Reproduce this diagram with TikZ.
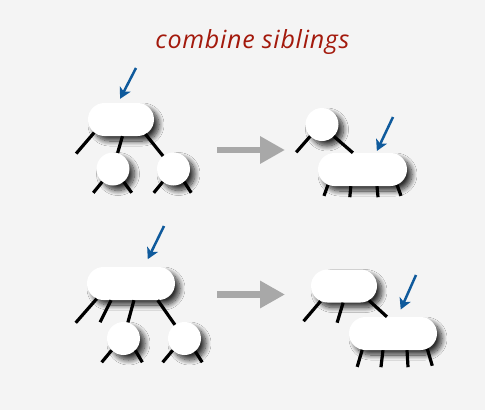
\documentclass[tikz,border=0pt]{standalone}
\usepackage{fontspec}
\setsansfont{Open Sans}
\usetikzlibrary{shapes.misc,arrows.meta,shadows.blur}
\definecolor{titlered}{HTML}{A3190C}
\definecolor{ptrblue}{HTML}{0F5A9C}
\definecolor{bggray}{HTML}{F4F4F4}
\definecolor{movegray}{HTML}{A8A8A8}

\begin{document}
\begin{tikzpicture}[x=1pt,y=-1pt,
    dropshadow/.style={blur shadow={shadow xshift=5pt,shadow yshift=-5pt,shadow blur radius=5pt,shadow blur steps=12,shadow opacity=80}},
    pill/.style={rounded rectangle,fill=white,minimum height=33pt,inner sep=0pt,dropshadow},
    bubble/.style={circle,fill=white,minimum size=33pt,inner sep=0pt,dropshadow},
    link/.style={line width=3.2pt},
    ptr/.style={ptrblue,line width=2.5pt,-{Stealth[length=11pt,width=12pt,inset=3pt]}},
    move/.style={movegray,line width=6.5pt,-{Triangle[length=25pt,width=26pt]}}]
    \fill[bggray] (0,0) rectangle (485,410);
    \node[font=\sffamily\itshape\fontsize{25}{29}\selectfont\addfontfeatures{LetterSpace=3},text=titlered,anchor=base] (title) at (252.5,48) {combine siblings};

    \node[pill,minimum width=66pt] (tl) at (121,119.5) {};
    \node[bubble] (tla) at (113,169) {};
    \node[bubble] (tlb) at (173.5,169) {};
    \draw[link] (tl.-154) -- ++(-18,21);
    \draw[link] (tl.-85) -- (tla);
    \draw[link] (tl.-31) -- (tlb);
    \draw[link] (tla.-130) -- ++(-9,11);
    \draw[link] (tla.-50) -- ++(8,11);
    \draw[link] (tlb.-130) -- ++(-9,11);
    \draw[link] (tlb.-50) -- ++(7,11);
    \coordinate (tlp) at (136,68);
    \draw[ptr,shorten >=4.5pt] (tlp) -- (tl.100);

    \coordinate (m1s) at (217,150);
    \coordinate (m1e) at (285,150);
    \draw[move] (m1s) -- (m1e);

    \node[bubble] (tra) at (322,124.5) {};
    \node[pill,minimum width=89pt] (trb) at (362.5,169.5) {};
    \draw[link] (tra.-135) -- ++(-14,16);
    \draw[link] (tra.-45) -- (trb.120);
    \draw[link] (trb.-156) -- ++(-4,11);
    \draw[link] (trb.-125) -- ++(-1,11);
    \draw[link] (trb.-49) -- ++(1,11);
    \draw[link] (trb.-24) -- ++(4,11);
    \coordinate (trp) at (393,117);
    \draw[ptr,shorten >=2pt] (trp) -- (trb.51);

    \node[pill,minimum width=88pt] (bl) at (131,283.5) {};
    \node[bubble] (bla) at (123.5,338.5) {};
    \node[bubble] (blb) at (184.5,338.5) {};
    \draw[link] (bl.-156) -- ++(-21,24);
    \draw[link] (bl.-140) -- ++(-11,22);
    \draw[link] (bl.-80) -- (bla);
    \draw[link] (bl.-32) -- (blb);
    \draw[link] (bla.-135) -- ++(-10,12);
    \draw[link] (bla.-45) -- ++(7,12);
    \draw[link] (blb.-135) -- ++(-10,12);
    \draw[link] (blb.-50) -- ++(7,11);
    \coordinate (blp) at (164,226);
    \draw[ptr,shorten >=8.5pt] (blp) -- (bl.52);

    \coordinate (m2s) at (217,294.5);
    \coordinate (m2e) at (285,294.5);
    \draw[move] (m2s) -- (m2e);

    \node[pill,minimum width=66pt] (bra) at (344,286) {};
    \node[pill,minimum width=88pt] (brb) at (393,333.5) {};
    \draw[link] (bra.-147) -- ++(-17,20);
    \draw[link] (bra.-93) -- ++(-6,20);
    \draw[link] (bra.-30) -- (brb.110);
    \draw[link] (brb.-152) -- ++(-5,17);
    \draw[link] (brb.-121) -- ++(-2,17);
    \draw[link] (brb.-50) -- ++(1,17);
    \draw[link] (brb.-24) -- ++(5,17);
    \coordinate (brp) at (416,275);
    \draw[ptr,shorten >=8pt] (brp) -- (brb.75);
\end{tikzpicture}
\end{document}
